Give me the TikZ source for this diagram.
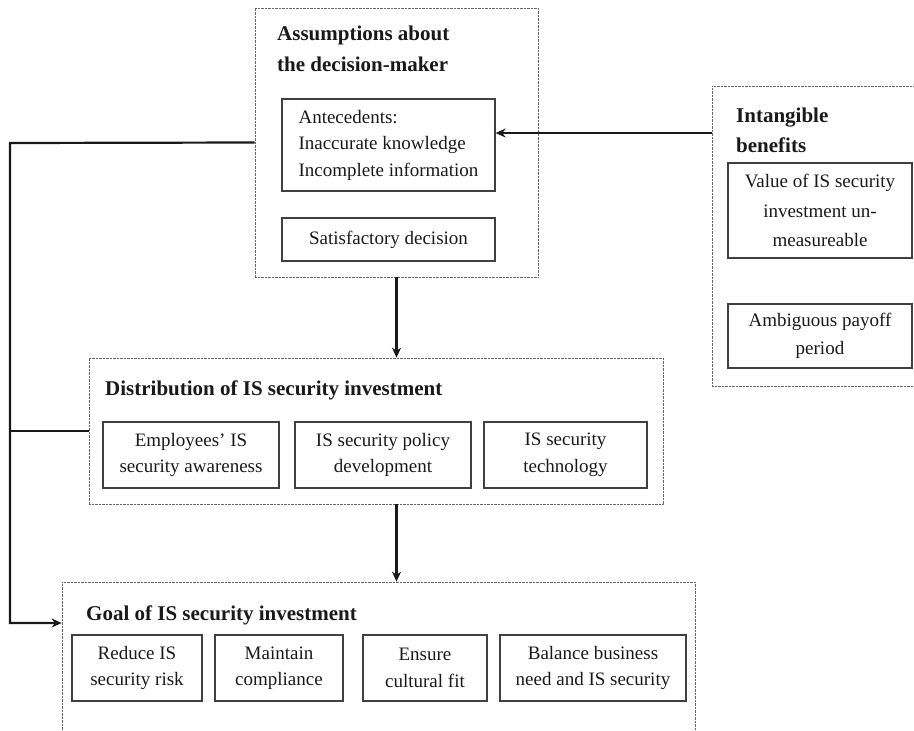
\documentclass[tikz,border=0pt]{standalone}
\usepackage{fontspec}
\setmainfont{Liberation Serif}
\usetikzlibrary{arrows.meta}
\begin{document}
\begin{tikzpicture}[x=1pt,y=-1pt,
  item/.style={draw=black!75, line width=1.2pt, inner sep=0pt, align=center,
    text=black!90, font=\fontsize{19}{26.5}\selectfont},
  group/.style={draw=black!60, line width=0.7pt, dash pattern=on 0.7pt off 0.7pt, inner sep=0pt},
  heading/.style={anchor=base west, align=left, inner sep=0pt, text=black!90,
    font=\bfseries\fontsize{21}{31}\selectfont},
  link/.style={line width=2.2pt, draw=black!90},
  arr/.style={link, -{Stealth[length=10pt,width=9pt]}}]
\useasboundingbox (0,0) rectangle (914,731);

% decision-maker block
\node[group, minimum width=283pt, minimum height=269pt] (assume) at (396.5,142.5) {};
\node[heading] (assumeT) at (277,71) {Assumptions about\\the decision-maker};
\node[item, align=left, minimum width=213pt, minimum height=92pt] (ante) at (388.5,145)
  {Antecedents:\\Inaccurate knowledge\\Incomplete information};
\node[item, minimum width=213pt, minimum height=43pt] (satis) at (388.5,239.5) {Satisfactory decision};

% intangible benefits block (runs past the right edge)
\node[group, minimum width=218pt, minimum height=300pt] (intang) at (821,236) {};
\node[heading, font=\bfseries\fontsize{21}{30}\selectfont] (intangT) at (736,152) {Intangible\\benefits};
\node[item, font=\fontsize{19}{29.5}\selectfont, minimum width=184pt, minimum height=95pt] (value) at (820,210.5)
  {Value of IS security\\investment un-\\measureable};
\node[item, font=\fontsize{19}{28}\selectfont, minimum width=184pt, minimum height=64pt] (payoff) at (820,336)
  {Ambiguous payoff\\period};

% distribution block
\node[group, minimum width=574pt, minimum height=146pt] (dist) at (376,431) {};
\node[heading] (distT) at (105,395) {Distribution of IS security investment};
\node[item, minimum width=176pt, minimum height=66pt] (aware) at (191,455) {Employees' IS\\security awareness};
\node[item, minimum width=176pt, minimum height=66pt] (policy) at (383,455) {IS security policy\\development};
\node[item, minimum width=163pt, minimum height=66pt] (tech) at (565.5,455) {IS security\\technology};

% goal block (runs past the bottom edge)
\node[group, minimum width=633pt, minimum height=170pt] (goal) at (378.5,667) {};
\node[heading] (goalT) at (86,620) {Goal of IS security investment};
\node[item, minimum width=130pt, minimum height=66pt] (risk) at (137,668) {Reduce IS\\security risk};
\node[item, minimum width=128pt, minimum height=66pt] (comp) at (279,668) {Maintain\\compliance};
\node[item, minimum width=124pt, minimum height=66pt] (fit) at (425,668) {Ensure\\cultural fit};
\node[item, minimum width=186pt, minimum height=66pt] (bal) at (593,668) {Balance business\\need and IS security};

% connectors
\draw[arr] ([yshift=12pt]ante.east -| intang.west) -- ([yshift=12pt]ante.east);
\draw[arr] (assume.south) -- (assume.south |- dist.north);
\draw[arr] (dist.south -| assume.south) -- (assume.south |- goal.north);

\coordinate (railtop) at (10,143);
\coordinate (railbot) at (10,623);
\draw[arr] (assume.west) -- (railtop) -- (railbot) -- (railbot -| goal.west);
\draw[link] (dist.west) -- (dist.west -| railtop);
\end{tikzpicture}
\end{document}
